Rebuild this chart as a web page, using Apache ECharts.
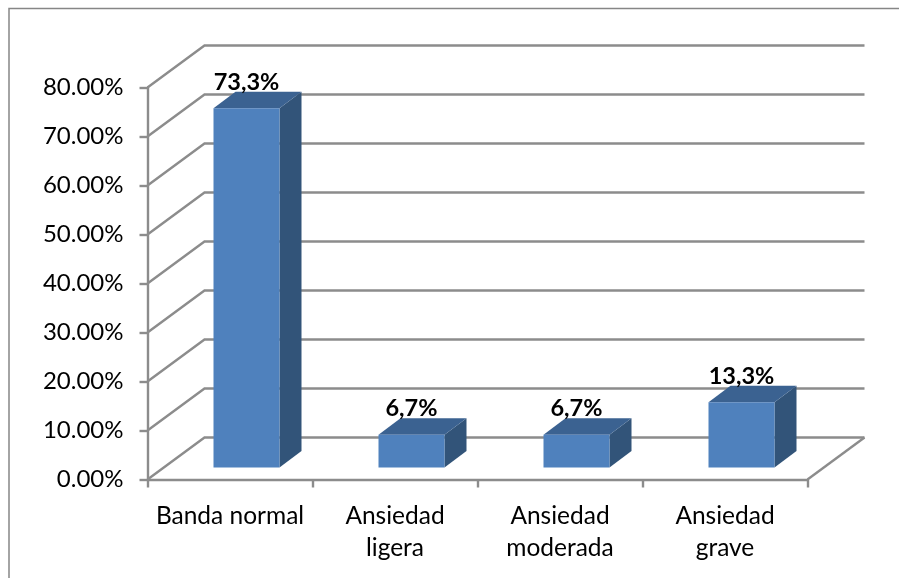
<!DOCTYPE html>
<html>
<head>
<meta charset="utf-8">
<style>
  html, body { margin: 0; padding: 0; background: #fff; }
  #chart { width: 899px; height: 578px; }
</style>
<script src="https://cdn.jsdelivr.net/npm/echarts@6/dist/echarts.min.js"></script>
</head>
<body>
<div id="chart"></div>
<script>
// Anxiety levels and the share of respondents in each one
const categories = ['Banda normal', 'Ansiedad\nligera', 'Ansiedad\nmoderada', 'Ansiedad\ngrave'];
const percentages = [73.3, 6.7, 6.7, 13.3];
const wallLevels = [0, 10, 20, 30, 40, 50, 60, 70, 80];

const FONT = 'Lato, Carlito, "Open Sans", sans-serif';
const GREY = '#8c8c8c';
const LINE_W = 2.4;
// Oblique projection of the chart box and of the bars standing inside it
const WALL_DX = 57, WALL_DY = -42;
const BAR_INSET_DX = 16.5, BAR_INSET_DY = -12;
const BAR_DX = 22, BAR_DY = -16.5;
const BAR_RATIO = 0.4;

function renderWallLine(params, api) {
  const level = api.value(0);
  const cs = params.coordSys;
  const y = api.coord([0, level])[1];
  const left = cs.x, right = cs.x + cs.width;
  const pts = [[left, y], [left + WALL_DX, y + WALL_DY], [right + WALL_DX, y + WALL_DY]];
  const children = [{
    type: 'polyline',
    shape: { points: pts },
    style: { fill: null, stroke: GREY, lineWidth: LINE_W }
  }];
  // The floor closes along its front and right edges
  if (level === 0) {
    children.push({
      type: 'polyline',
      shape: { points: [[right, y], [right + WALL_DX, y + WALL_DY]] },
      style: { fill: null, stroke: GREY, lineWidth: LINE_W }
    });
  }
  return { type: 'group', children };
}

function renderBar(params, api) {
  const idx = api.value(0);
  const val = api.value(1);
  const band = api.size([1, 0])[0];
  const w = band * BAR_RATIO;
  const base = api.coord([idx, 0]);
  const top = api.coord([idx, val]);
  const x0 = base[0] - w / 2 + BAR_INSET_DX;
  const x1 = x0 + w;
  const yB = base[1] + BAR_INSET_DY;
  const yT = top[1] + BAR_INSET_DY;
  return {
    type: 'group',
    children: [
      {
        type: 'polygon',
        shape: { points: [[x1, yT], [x1 + BAR_DX, yT + BAR_DY], [x1 + BAR_DX, yB + BAR_DY], [x1, yB]] },
        style: { fill: '#325479' }
      },
      {
        type: 'polygon',
        shape: { points: [[x0, yT], [x0 + BAR_DX, yT + BAR_DY], [x1 + BAR_DX, yT + BAR_DY], [x1, yT]] },
        style: { fill: '#3b6291' }
      },
      {
        type: 'rect',
        shape: { x: x0, y: yT, width: w, height: yB - yT },
        style: { fill: '#4f81bd' }
      },
      {
        type: 'text',
        style: {
          x: (x0 + x1) / 2,
          y: yT - 26,
          text: val.toFixed(1).replace('.', ',') + '%',
          font: 'bold 23.5px ' + FONT,
          fill: '#000',
          align: 'center',
          verticalAlign: 'middle'
        }
      }
    ]
  };
}

const chart = echarts.init(document.getElementById('chart'), null, { renderer: 'canvas' });
chart.setOption({
  animation: false,
  backgroundColor: '#fff',
  grid: { left: 147.5, top: 87.5, width: 660, height: 392 },
  xAxis: {
    type: 'category',
    data: categories,
    boundaryGap: true,
    axisLine: { lineStyle: { color: GREY, width: LINE_W } },
    axisTick: { show: true, length: 8, alignWithLabel: false, lineStyle: { color: GREY, width: LINE_W } },
    axisLabel: { interval: 0, margin: 21, color: '#000', fontFamily: FONT, fontSize: 24.5, lineHeight: 32 }
  },
  yAxis: {
    type: 'value',
    min: 0,
    max: 80,
    interval: 10,
    axisLine: { show: true, lineStyle: { color: GREY, width: LINE_W } },
    axisTick: { show: true, length: 8, lineStyle: { color: GREY, width: LINE_W } },
    splitLine: { show: false },
    axisLabel: {
      margin: 24,
      padding: [2, 0, 0, 0],
      color: '#000',
      fontFamily: FONT,
      fontSize: 24,
      formatter: v => v.toFixed(2) + '%'
    }
  },
  series: [
    {
      type: 'custom',
      renderItem: renderWallLine,
      data: wallLevels.map(v => [v]),
      encode: { y: 0 },
      clip: false,
      silent: true,
      z: 1
    },
    {
      type: 'custom',
      renderItem: renderBar,
      data: percentages.map((v, i) => [i, v]),
      encode: { x: 0, y: 1 },
      clip: false,
      z: 3
    }
  ],
  graphic: [{
    type: 'polyline',
    silent: true,
    shape: { points: [[9, 600], [9, 8.5], [920, 8.5]] },
    style: { fill: null, stroke: '#868686', lineWidth: 1.5 }
  }]
});
</script>
</body>
</html>
